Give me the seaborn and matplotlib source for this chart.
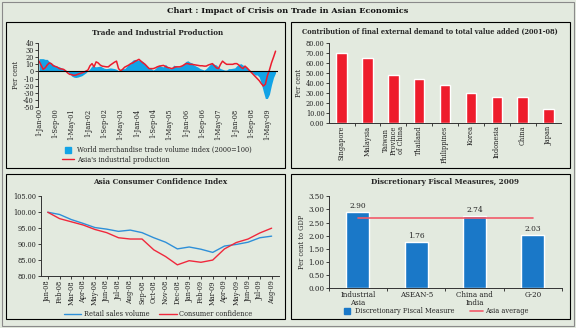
import matplotlib
matplotlib.use("Agg")
import matplotlib.pyplot as plt
import matplotlib.patches as mpatches
from matplotlib.lines import Line2D
import seaborn as sns
import pandas as pd
import numpy as np

# ---------------- data ----------------
trade = [18, 18, 18, 17, 17, 14, 12, 10, 8, 7, 6.5, 5, 3.5, 2, 0, -3, -6.5, -8, -8.5, -8,
         -7, -6, -4, -2, 1, 4, 8, 7, 6.5, 7, 7.5, 6, 4.5, 4, 4.5, 5, 4.5, 4, 3, 1,
         2, 4, 4, 7, 10, 13, 16, 17, 16, 16, 15, 14, 11, 8, 5, 4, 2, 4, 7, 9,
         7, 6.5, 10, 7, 4, 4, 9, 7, 6.5, 6.5, 9, 11, 14, 15, 13, 12, 9, 7.5, 6, 4,
         3, 2, 4, 7, 10, 12, 10, 9, 6, 4, 3, 2, 2, 4, 4, 4.5, 5, 8, 10, 11,
         9, 7, 5, 2, 0, -3, -5, -5, -8, -17, -28, -38, -38, -32, -19, -8.5, -2]
indprod = [14.5, 9, 3, 5, 9, 12, 11, 8, 7, 6, 4, 3.5, 3, 1, -2, -4, -4.5, -5.5, -5, -4,
           -3, -2, -1, 0.5, 2, 8, 11, 6.5, 13.5, 12, 9, 7.5, 7, 6.5, 6.5, 9, 11, 13, 14.5, 4,
           1, 3, 6, 7.5, 9, 11, 12, 14, 15.5, 17, 14.5, 12, 10, 7, 4, 4, 4, 5, 6.5, 7.5,
           8, 8.5, 7, 5.6, 5, 4, 5, 6.5, 6.5, 6.5, 7.5, 9, 11, 11, 10, 10, 9.5, 9, 8.5, 8,
           8, 7.5, 7.5, 9, 10, 11, 8, 5, 4, 10, 14.5, 12, 10, 10, 10, 10, 11, 11, 9, 6,
           4, 7.5, 5, 2, -1, -4, -7, -10, -13, -17, -20.5, -18, -6, 2, 12, 20, 28.5]
date_ticks = ["1-Jan-00", "1-Sep-00", "1-May-01", "1-Jan-02", "1-Sep-02", "1-May-03",
              "1-Jan-04", "1-Sep-04", "1-May-05", "1-Jan-06", "1-Sep-06", "1-May-07",
              "1-Jan-08", "1-Sep-08", "1-May-09"]

countries = ["Singapore", "Malaysia", "Taiwan\nProvince\nof China", "Thailand",
             "Philippines", "Korea", "Indonesia", "China", "Japan"]
ext_demand = [70.0, 65.0, 48.0, 44.0, 38.3, 29.6, 26.0, 25.6, 13.3]

months_cc = ["Jan-08", "Feb-08", "Mar-08", "Apr-08", "May-08", "Jun-08", "Jul-08", "Aug-08",
             "Sep-08", "Oct-08", "Nov-08", "Dec-08", "Jan-09", "Feb-09", "Mar-09", "Apr-09",
             "May-09", "Jun-09", "Jul-09", "Aug-09"]
retail = [100.0, 99.3, 97.7, 96.5, 95.2, 94.7, 94.0, 94.4, 93.6, 92.0, 90.6, 88.5,
          89.1, 88.4, 87.4, 89.4, 89.9, 90.6, 92.0, 92.5]
confidence = [100.0, 98.0, 97.0, 96.0, 94.6, 93.6, 92.0, 91.6, 91.6, 88.2, 86.1, 83.5,
              84.8, 84.3, 85.0, 88.5, 90.5, 91.6, 93.5, 95.0]

groups = ["Industrial\nAsia", "ASEAN-5", "China and\nIndia", "G-20"]
fiscal = [2.90, 1.76, 2.74, 2.03]
asia_avg = [2.67, 2.67, 2.67, 2.67]

# ---------------- style ----------------
BG = "#e3eadf"
sns.set_theme(style="white")
plt.rcParams["font.family"] = ["DejaVu Serif"]
plt.rcParams["axes.facecolor"] = BG
plt.rcParams["figure.facecolor"] = BG
plt.rcParams["axes.edgecolor"] = "#333333"
plt.rcParams["axes.linewidth"] = 0.7
plt.rcParams["xtick.color"] = "#222222"
plt.rcParams["ytick.color"] = "#222222"
FS = 4.8
TFS = 5.2

W, H = 576, 328
fig = plt.figure(figsize=(W / 100, H / 100), dpi=100)


def rect(x0, y0, x1, y1):
    return [x0 / W, 1 - y1 / H, (x1 - x0) / W, (y1 - y0) / H]


def box(x0, y0, x1, y1, color="black", lw=0.8):
    fig.patches.append(mpatches.Rectangle((x0 / W, 1 - y1 / H), (x1 - x0) / W, (y1 - y0) / H,
                                          transform=fig.transFigure, fill=False,
                                          ec=color, lw=lw))


box(2, 2, 574, 326, color="#8a8a8a", lw=0.8)
box(6, 22, 285, 168)
box(291, 22, 570, 168)
box(6, 174, 285, 319)
box(291, 174, 570, 319)

fig.text(288 / W, 1 - 11 / H, "Chart : Impact of Crisis on Trade in Asian Economics",
         ha="center", va="center", fontsize=5.85, fontweight="bold", color="#111111")

BLUE_TL = "#12a3e6"
RED = "#ec1c2e"

# ---------------- top-left ----------------
ax1 = fig.add_axes(rect(38, 43, 278, 107))
m = np.arange(len(trade))
df1 = pd.DataFrame({"m": m, "trade": trade, "ip": indprod})
ax1.fill_between(df1["m"], 0, df1["trade"], color=BLUE_TL, lw=0)
sns.lineplot(data=df1, x="m", y="ip", ax=ax1, color=RED, lw=1.1)
ax1.axhline(0, color="black", lw=0.8)
ax1.set_xlim(-0.5, 117.2)
ax1.set_ylim(-50, 40)
ax1.set_yticks(range(-50, 41, 10))
ax1.set_yticklabels([str(v) for v in range(-50, 41, 10)])
ax1.set_xticks(range(0, 113, 8))
ax1.set_xticklabels(date_ticks, rotation=90)
ax1.tick_params(axis="x", length=0, labelsize=FS, pad=1)
ax1.tick_params(axis="y", length=2, width=0.6, labelsize=FS, pad=1, left=True)
for s in ["top", "right", "bottom"]:
    ax1.spines[s].set_visible(False)
ax1.set_xlabel("")
ax1.set_ylabel("Per cent", fontsize=FS, labelpad=2)
ax1.set_title("Trade and Industrial Production", fontsize=TFS, fontweight="bold", pad=6)
h1 = [Line2D([], [], marker="s", color=BLUE_TL, lw=0, markersize=4),
      Line2D([], [], color=RED, lw=1.0)]
fig.legend(h1, ["World merchandise trade volume index (2000=100)",
                "Asia's industrial production"],
           loc="upper left", bbox_to_anchor=(62 / W, 1 - 146 / H), frameon=False,
           fontsize=FS, handlelength=1.8, handletextpad=0.4, labelspacing=0.25,
           borderpad=0, borderaxespad=0)

# ---------------- top-right ----------------
ax2 = fig.add_axes(rect(328.7, 43.3, 561.4, 122.7))
df2 = pd.DataFrame({"c": countries, "v": ext_demand})
sns.barplot(data=df2, x="c", y="v", ax=ax2, color="#ee1c2c", width=0.4, saturation=1)
ax2.set_xlim(-0.5, 8.5)
ax2.set_ylim(0, 80)
ax2.set_yticks(range(0, 81, 10))
ax2.set_yticklabels([f"{v:.2f}" for v in range(0, 81, 10)])
ax2.set_xticks(range(len(countries)))
ax2.set_xticklabels(countries, rotation=90, linespacing=0.95)
ax2.set_xticks(np.arange(0.5, 8.5, 1), minor=True)
ax2.tick_params(axis="x", which="major", length=0, labelsize=FS, pad=2)
ax2.tick_params(axis="x", which="minor", length=2, width=0.6, bottom=True)
ax2.tick_params(axis="y", length=2, width=0.6, labelsize=FS, pad=1, left=True)
for s in ["top", "right"]:
    ax2.spines[s].set_visible(False)
ax2.set_xlabel("")
ax2.set_ylabel("Per cent", fontsize=FS, labelpad=2)
fig.text(430 / W, 1 - 31.5 / H,
         "Contribution of final external demand to total value added (2001-08)",
         ha="center", va="center", fontsize=4.75, fontweight="bold")

# ---------------- bottom-left ----------------
ax3 = fig.add_axes(rect(40.7, 196.3, 278.7, 276))
idx = np.arange(len(months_cc))
df3 = pd.DataFrame({"i": idx, "retail": retail, "conf": confidence})
sns.lineplot(data=df3, x="i", y="retail", ax=ax3, color="#2e8fd8", lw=1.0,
             label="Retail sales volume")
sns.lineplot(data=df3, x="i", y="conf", ax=ax3, color="#f0283c", lw=1.0,
             label="Consumer confidence")
ax3.set_xlim(-0.6, 19.6)
ax3.set_ylim(80, 105)
ax3.set_yticks(range(80, 106, 5))
ax3.set_yticklabels([f"{v:.2f}" for v in range(80, 106, 5)])
ax3.set_xticks(idx)
ax3.set_xticklabels(months_cc, rotation=90)
ax3.tick_params(axis="x", length=2, width=0.6, labelsize=FS, pad=1, bottom=True)
ax3.tick_params(axis="y", length=2, width=0.6, labelsize=FS, pad=1, left=True)
for s in ["top", "right"]:
    ax3.spines[s].set_visible(False)
ax3.set_xlabel("")
ax3.set_ylabel("")
ax3.set_title("Asia Consumer Confidence Index", fontsize=TFS, fontweight="bold", pad=9)
ax3.legend(loc="upper center", bbox_to_anchor=(158 / W, 1 - 307 / H),
           bbox_transform=fig.transFigure, ncol=2, frameon=False, fontsize=FS,
           handlelength=2.6, handletextpad=0.4, columnspacing=1.5, borderpad=0)

# ---------------- bottom-right ----------------
ax4 = fig.add_axes(rect(328.7, 196.3, 562, 288.3))
df4 = pd.DataFrame({"g": groups, "v": fiscal, "avg": asia_avg})
sns.barplot(data=df4, x="g", y="v", ax=ax4, color="#1a78c8", width=0.39, saturation=1)
sns.lineplot(x=np.arange(len(groups)), y=df4["avg"], ax=ax4, color="#f25a6a", lw=1.2)
for c in ax4.containers:
    ax4.bar_label(c, fmt="%.2f", fontsize=FS + 0.6, padding=1.5)
ax4.set_xlim(-0.5, 3.5)
ax4.set_ylim(0, 3.5)
ax4.set_yticks(np.arange(0, 3.51, 0.5))
ax4.set_yticklabels([f"{v:.2f}" for v in np.arange(0, 3.51, 0.5)])
ax4.set_xticks(range(len(groups)))
ax4.set_xticklabels(groups, linespacing=0.95)
ax4.set_xticks(np.arange(-0.5, 3.6, 1), minor=True)
ax4.tick_params(axis="x", which="major", length=0, labelsize=FS + 0.3, pad=2)
ax4.tick_params(axis="x", which="minor", length=2, width=0.6, bottom=True)
ax4.tick_params(axis="y", length=2, width=0.6, labelsize=FS + 0.3, pad=1, left=True)
for s in ["top", "right"]:
    ax4.spines[s].set_visible(False)
ax4.set_xlabel("")
ax4.set_ylabel("Per cent to GDP", fontsize=FS, labelpad=2)
ax4.set_title("Discretionary Fiscal Measures, 2009", fontsize=TFS, fontweight="bold", pad=9)
h4 = [Line2D([], [], marker="s", color="#1a78c8", lw=0, markersize=4),
      Line2D([], [], color="#f25a6a", lw=1.2)]
fig.legend(h4, ["Discretionary Fiscal Measure", "Asia average"],
           loc="upper left", bbox_to_anchor=(340 / W, 1 - 307 / H), ncol=2, frameon=False,
           fontsize=FS, handlelength=2.0, handletextpad=0.3, columnspacing=2.2,
           borderpad=0, borderaxespad=0)

fig.savefig("out.png", dpi=100, facecolor=BG)
